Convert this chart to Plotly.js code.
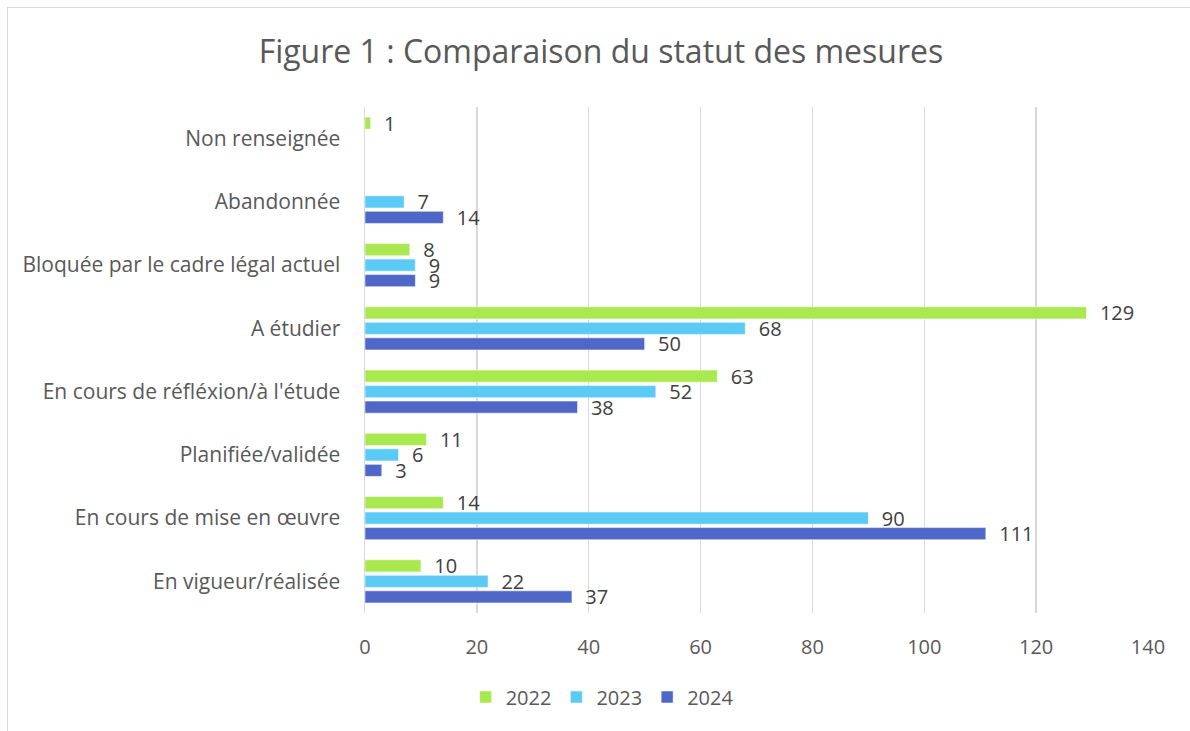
<!DOCTYPE html>
<html><head><meta charset="utf-8">
<script src="https://cdn.plot.ly/plotly-3.0.1.min.js"></script>
<style>body{margin:0;background:#fff}#wrap{position:relative;width:1190px;height:731px;overflow:hidden}
#frame{position:absolute;left:7px;top:7px;width:1200px;height:740px;border:1.5px solid #d9d9d9;pointer-events:none}</style>
</head><body><div id="wrap"><div id="chart" style="width:1190px;height:731px"></div><div id="frame"></div></div>
<script>
const categories = ["En vigueur/réalisée","En cours de mise en œuvre","Planifiée/validée","En cours de réfléxion/à l'étude","A étudier","Bloquée par le cadre légal actuel","Abandonnée","Non renseignée"];
const v2022 = [10, 14, 11, 63, 129, 8, null, 1];
const v2023 = [22, 90, 6, 52, 68, 9, 7, null];
const v2024 = [37, 111, 3, 38, 50, 9, 14, null];
const xTicks = [0, 20, 40, 60, 80, 100, 120, 140];

const font = "'Open Sans', 'Liberation Sans', sans-serif";
const pad = '\u00A0\u00A0';
function tr(name, vals, color){
  return {type:'bar', orientation:'h', name:name, y:categories, x:vals,
    marker:{color:color, line:{color:'rgba(255,255,255,0.5)', width:1}},
    text: vals.map(v => v==null ? '' : pad + String(v)), textposition:'outside', cliponaxis:false,
    constraintext:'none',
    textfont:{size:20, color:'#404040', family:font}, hoverinfo:'x+name'};
}
const data = [tr('2024', v2024, '#4f68c7'), tr('2023', v2023, '#5bcbf5'), tr('2022', v2022, '#a9e84f')];
const layout = {
  width:1190, height:731, paper_bgcolor:'#fff', plot_bgcolor:'#fff',
  margin:{l:365, r:42, t:107, b:118},
  font:{family:font, color:'#595959'},
  title:{text:'Figure 1 : Comparaison du statut des mesures', font:{size:32, color:'#595959', family:font}, x:0.505, xref:'container', y:1-52/731, yref:'container', yanchor:'middle'},
  barmode:'group', bargap:0.265, bargroupgap:0.22,
  xaxis:{range:[0,140], tickvals:xTicks, ticktext:xTicks.map(String), showgrid:true, gridcolor:'#d9d9d9', gridwidth:1.5, zeroline:false, showline:false, tickfont:{size:20, color:'#595959'}, ticks:'', ticklabelstandoff:20, fixedrange:true},
  yaxis:{categoryorder:'array', categoryarray:categories, showline:true, linecolor:'#d9d9d9', linewidth:1.5, tickfont:{size:21, color:'#595959'}, ticks:'', ticklabelstandoff:19, fixedrange:true},
  legend:{orientation:'h', traceorder:'reversed', x:0.506, xref:'container', xanchor:'center', y:1-697/731, yref:'container', yanchor:'middle', font:{size:20, color:'#595959'}, itemwidth:30},
  showlegend:true
};
Plotly.newPlot('chart', data, layout, {displayModeBar:false, staticPlot:true});
</script></body></html>
